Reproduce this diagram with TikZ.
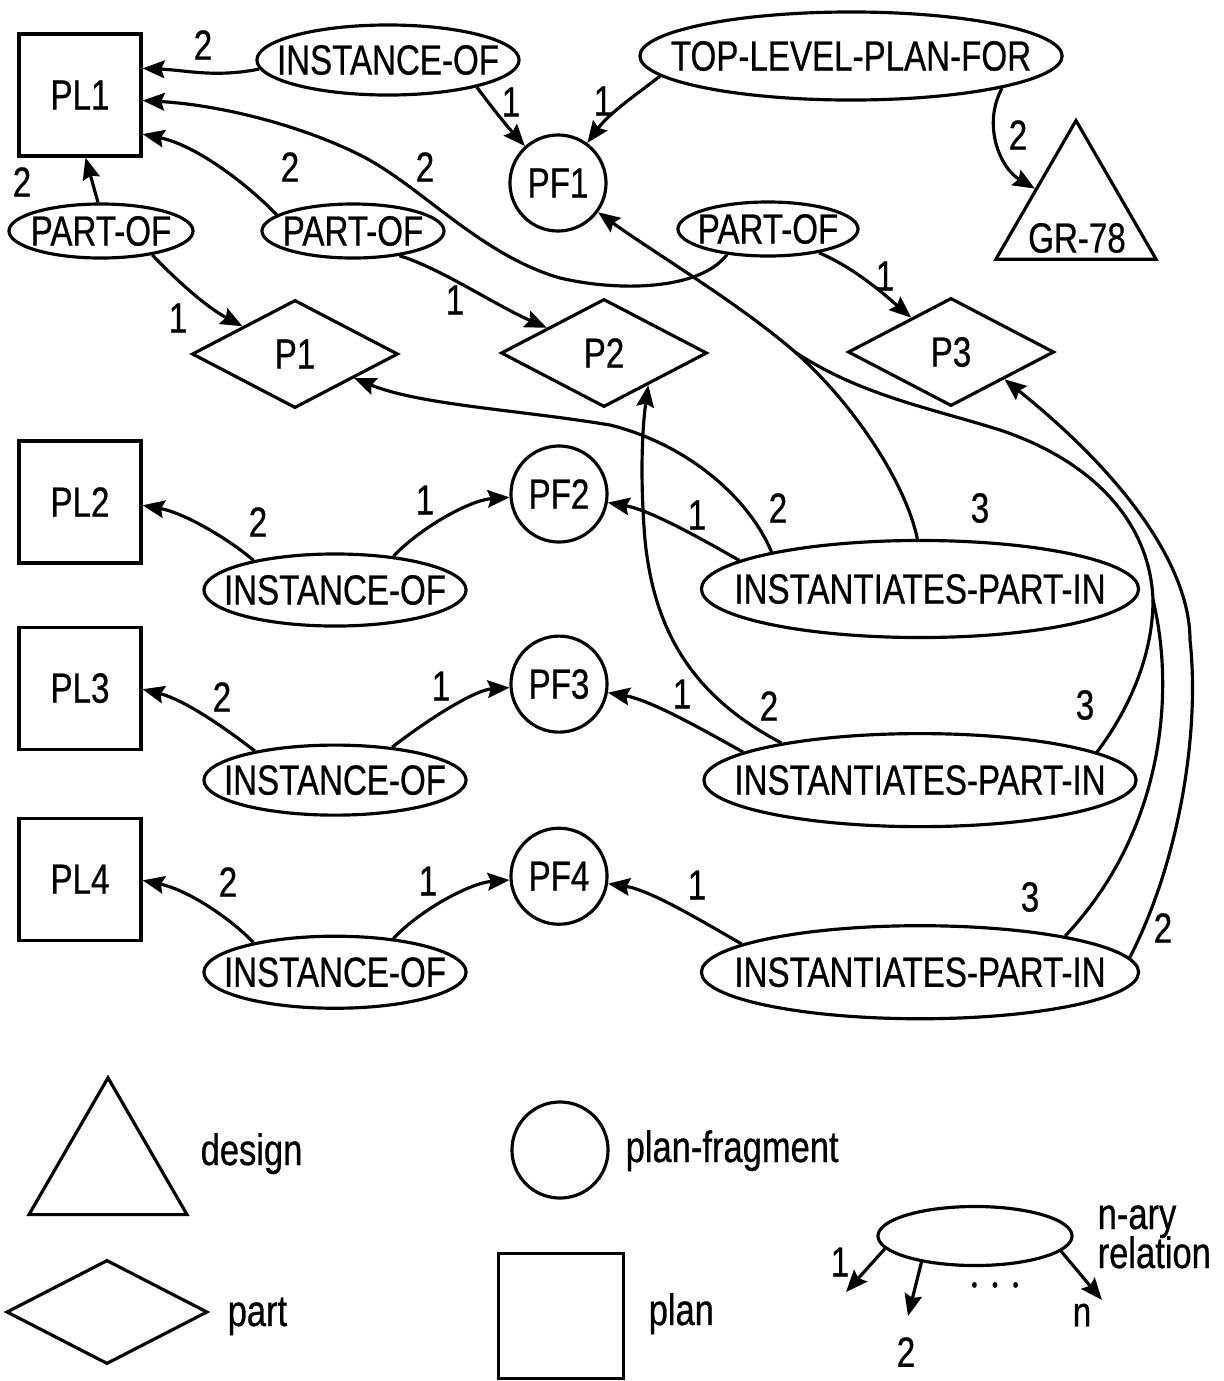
\documentclass[tikz,border=0pt]{standalone}
\usepackage{fontspec}
\setmainfont{Liberation Sans}[FakeStretch=0.785, FakeBold=0.6]
\usetikzlibrary{shapes.geometric, arrows.meta}
\tikzstyle{plan} = [rectangle, minimum width=1.22cm, minimum height=1.22cm, inner sep=0pt, draw=black, line width=0.9pt]
\tikzstyle{frag} = [circle, minimum size=0.96cm, inner sep=0pt, draw=black, line width=0.9pt]
\tikzstyle{part} = [diamond, minimum width=2.06cm, minimum height=1.08cm, inner sep=0pt, draw=black, line width=0.9pt]
\tikzstyle{design} = [regular polygon, regular polygon sides=3, inner sep=0pt, draw=black, line width=0.9pt]
\tikzstyle{rel} = [ellipse, inner sep=0pt, draw=black, line width=0.9pt]
\tikzstyle{num} = [inner sep=0pt]
\tikzstyle{legtxt} = [inner sep=0pt, anchor=base west, font=\fontsize{12.5}{14}\selectfont]
\tikzstyle{arrow} = [line width=0.9pt,->,>={Stealth[length=6.2pt,width=5pt,inset=0.9pt]}]
\tikzstyle{link} = [line width=0.9pt]
\newcommand{\reltext}[1]{\makebox[0pt]{#1}}

\begin{document}
\begin{tikzpicture}[x=0.01cm, y=-0.01cm, font=\fontsize{12}{14}\selectfont]
\useasboundingbox (0,0) rectangle (1224,1381);

%% NODES

\node (pl1) [plan] at (80,95) {PL1};
\node (io1) [rel, minimum width=2.62cm, minimum height=0.7cm] at (388,60) {\reltext{INSTANCE-OF}};
\node (tlpf) [rel, minimum width=4.22cm, minimum height=0.88cm] at (851,56) {\reltext{TOP-LEVEL-PLAN-FOR}};
\node (pf1) [frag] at (558,183) {PF1};
\node (gr78) [design, minimum size=1.848cm] at (1076,213) {};
\node (gr78txt) at (1077,238) {GR-78};
\node (po1) [rel, minimum width=1.84cm, minimum height=0.54cm] at (101,231) {\reltext{PART-OF}};
\node (po2) [rel, minimum width=1.82cm, minimum height=0.54cm] at (353,231) {\reltext{PART-OF}};
\node (po3) [rel, minimum width=1.8cm, minimum height=0.54cm] at (768,229) {\reltext{PART-OF}};
\node (p1) [part] at (295,354) {P1};
\node (p2) [part] at (604,353) {P2};
\node (p3) [part] at (951,352) {P3};

\node (pl2) [plan] at (80,502) {PL2};
\node (pl3) [plan, below of=pl2, node distance=1.86cm] {PL3};
\node (pl4) [plan, below of=pl3, node distance=1.91cm] {PL4};
\node (io2) [rel, minimum width=2.62cm, minimum height=0.72cm] at (335,590) {\reltext{INSTANCE-OF}};
\node (io3) [rel, minimum width=2.62cm, minimum height=0.7cm, below of=io2, node distance=1.9cm] {\reltext{INSTANCE-OF}};
\node (io4) [rel, minimum width=2.62cm, minimum height=0.72cm, below of=io3, node distance=1.92cm] {\reltext{INSTANCE-OF}};
\node (pf2) [frag] at (559,494) {PF2};
\node (pf3) [frag, below of=pf2, node distance=1.9cm] {PF3};
\node (pf4) [frag, below of=pf3, node distance=1.92cm] {PF4};
\node (ipi1) [rel, minimum width=4.37cm, minimum height=0.97cm] at (920,589) {\reltext{INSTANTIATES-PART-IN}};
\node (ipi2) [rel, minimum width=4.32cm, minimum height=0.93cm, below of=ipi1, node distance=1.91cm] {\reltext{INSTANTIATES-PART-IN}};
\node (ipi3) [rel, minimum width=4.37cm, minimum height=0.93cm, below of=ipi2, node distance=1.92cm] {\reltext{INSTANTIATES-PART-IN}};

\coordinate (jA) at (795,352);
\coordinate (jB) at (1153,600);

%% ARGUMENT NUMBERS

\node (n1) [num] at (203,45) {2};
\node (n2) [num] at (511,102) {1};
\node (n3) [num] at (603,101) {1};
\node (n4) [num] at (1018,135) {2};
\node (n5) [num] at (22,182) {2};
\node (n6) [num] at (178,318) {1};
\node (n7) [num] at (290,167) {2};
\node (n8) [num] at (455,300) {1};
\node (n9) [num] at (425,167) {2};
\node (n10) [num] at (885,276) {1};
\node (n11) [num] at (258,522) {2};
\node (n12) [num] at (425,500) {1};
\node (n13) [num] at (697,515) {1};
\node (n14) [num] at (778,508) {2};
\node (n15) [num] at (980,508) {3};
\node (n16) [num] at (222,697) {2};
\node (n17) [num] at (441,686) {1};
\node (n18) [num] at (682,694) {1};
\node (n19) [num] at (769,706) {2};
\node (n20) [num] at (1085,705) {3};
\node (n21) [num] at (228,882) {2};
\node (n22) [num] at (428,881) {1};
\node (n23) [num] at (697,885) {1};
\node (n24) [num] at (1030,897) {3};
\node (n25) [num] at (1163,928) {2};

%% ARROWS

\draw [arrow] (io1.184) .. controls (215,78) and (185,70) .. (pl1.23);
\draw [arrow] (io1.-17) .. controls (490,105) and (506,125) .. (pf1);
\draw [arrow] (tlpf.186) .. controls (640,92) and (610,112) .. (pf1);
\draw [arrow] (tlpf.-12) .. controls (982,125) and (1000,168) .. (gr78);
\draw [arrow] (po1.96) -- (pl1.-85);
\draw [arrow] (po1.-25) .. controls (178,282) and (208,308) .. (p1);
\draw [arrow] (po2.168) .. controls (245,182) and (195,145) .. (pl1.-32);
\draw [arrow] (po2.-28) .. controls (440,268) and (495,305) .. (p2);
\draw [arrow] (po3.212) .. controls (700,290) and (620,292) .. (560,278) .. controls (480,255) and (420,185) .. (360,155) .. controls (300,125) and (220,105) .. (pl1.-5);
\draw [arrow] (po3.-25) .. controls (855,268) and (885,295) .. (p3);

\draw [arrow] (io2.160) .. controls (230,540) and (185,513) .. (pl2.-3);
\draw [arrow] (io2.30) .. controls (420,528) and (470,500) .. (pf2);
\draw [arrow] (ipi1.171) .. controls (700,538) and (650,510) .. (pf2);
\draw [arrow] (ipi1.166) .. controls (750,500) and (690,445) .. (610,425) .. controls (520,410) and (420,405) .. (p1);

\draw [arrow] (io3.160) .. controls (225,728) and (185,700) .. (pl3.-1);
\draw [arrow] (io3.30) .. controls (430,718) and (475,690) .. (pf3);
\draw [arrow] (ipi2.171) .. controls (700,728) and (650,700) .. (pf3);
\draw [arrow] (ipi2.165) .. controls (700,700) and (655,640) .. (645,540) .. controls (640,480) and (642,430) .. (p2.-36);

\draw [arrow] (io4.160) .. controls (230,918) and (188,890) .. (pl4.-1);
\draw [arrow] (io4.30) .. controls (420,910) and (470,883) .. (pf4);
\draw [arrow] (ipi3.171) .. controls (700,920) and (650,890) .. (pf4);
\draw [arrow] (ipi3.4) .. controls (1180,860) and (1200,730) .. (1190,640) .. controls (1190,570) and (1130,480) .. (p3.-27);

% the three "3" arguments all run into PF1
\draw [arrow] (jA) .. controls (740,304) and (650,250) .. (pf1);
\draw [link] (ipi1.93) .. controls (905,480) and (850,400) .. (jA);
\draw [link] (jB) .. controls (1150,520) and (1090,460) .. (1000,430) .. controls (930,408) and (860,395) .. (jA);
\draw [link] (ipi2.9) .. controls (1125,715) and (1153,660) .. (jB);
\draw [link] (ipi3.14) .. controls (1165,830) and (1175,690) .. (jB);

%% LEGEND

\node (lgdesign) [design, minimum size=1.824cm] at (108,1169) {};
\node (lgdesigntxt) [legtxt] at (200,1165) {design};
\node (lgfrag) [frag] at (560,1150) {};
\node (lgfragtxt) [legtxt] at (625,1162) {plan-fragment};
\node (lgpart) [part, minimum width=2.01cm, minimum height=1.04cm] at (107,1312) {};
\node (lgparttxt) [legtxt] at (227,1326) {part};
\node (lgplan) [plan, minimum width=1.25cm, minimum height=1.25cm] at (561,1316) {};
\node (lgplantxt) [legtxt] at (648,1325) {plan};
\node (lgrel) [rel, minimum width=1.94cm, minimum height=0.59cm] at (975,1236) {};
\node (lgnary) [legtxt] at (1097,1229) {n-ary};
\node (lgrelation) [legtxt] at (1097,1268) {relation};
\coordinate (lg1) at (846,1292);
\coordinate (lg2) at (908,1316);
\coordinate (lgn) at (1102,1300);
\draw [arrow] (lgrel.188) -- (lg1);
\draw [arrow] (lgrel.206) -- (lg2);
\draw [arrow] (lgrel.-10) -- (lgn);
\node (lgone) [num] at (840,1262) {1};
\node (lgtwo) [num] at (906,1352) {2};
\node (lgnn) [num] at (1082,1315) {n};
\node (lgdots) at (995,1287) {\fontsize{6}{6}\selectfont •\hspace{4.2pt}•\hspace{4.2pt}•};

\end{tikzpicture}
\end{document}
